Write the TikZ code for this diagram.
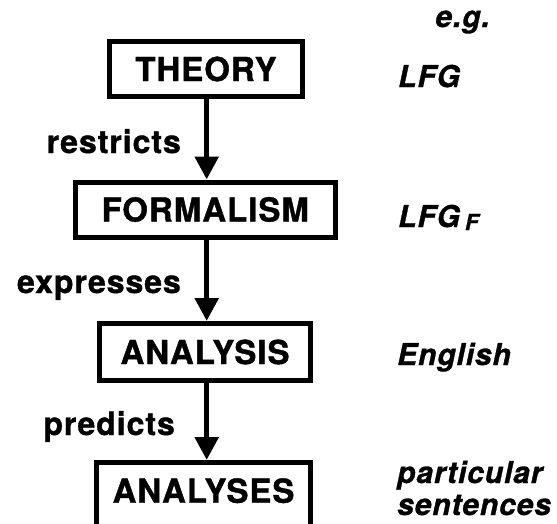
\documentclass[tikz,border=0pt]{standalone}
\usepackage{fontspec}
\setmainfont{TeX Gyre Heros}
\newfontfamily\boxfont[LetterSpace=3,FakeBold=1.2]{TeX Gyre Heros}
\newfontfamily\exfont[LetterSpace=3,FakeBold=1.0]{TeX Gyre Heros}
\usetikzlibrary{arrows.meta}
\begin{document}
\begin{tikzpicture}[x=1pt,y=-1pt,
  box/.style={draw,line width=5pt,inner sep=0pt,align=center,font=\boxfont\fontsize{33}{33}\selectfont\bfseries},
  flow/.style={line width=5.5pt,-{Triangle[length=23pt,width=23pt]}},
  lbl/.style={inner sep=0pt,anchor=base east,font=\boxfont\fontsize{32}{32}\selectfont\bfseries},
  ex/.style={inner sep=0pt,anchor=base west,font=\exfont\fontsize{30}{30}\selectfont\bfseries\itshape}]
\useasboundingbox[fill=white] (0,0) rectangle (557,523);
\clip (0,0) rectangle (557,523);
\node[box,minimum width=193pt,minimum height=55pt] (theory) at (206,69) {THEORY};
\node[box,minimum width=260pt,minimum height=55pt] (formalism) at (205.3,209.5) {FORMALISM};
\node[box,minimum width=211pt,minimum height=57pt] (analysis) at (205,352) {ANALYSIS};
\node[box,minimum width=214pt,minimum height=70pt,text depth=14pt] (analyses) at (203.5,497.5) {ANALYSES};
\draw[flow] (theory.south -| 206.7,0) -- (formalism.north -| 206.7,0);
\draw[flow] (formalism.south -| 206.7,0) -- (analysis.north -| 206.7,0);
\draw[flow] (analysis.south -| 206.7,0) -- (analyses.north -| 206.7,0);
\node[lbl] (l1) at (181,153) {restricts};
\node[lbl] (l2) at (181,293) {expresses};
\node[lbl] (l3) at (175,435) {predicts};
\node[ex,anchor=base east] (eg) at (490,27) {e.g.};
\node[ex] (e1) at (398,87) {LFG};
\node[ex] (e2) at (398,227) {LFG\hspace{5pt}\raisebox{-3pt}{\fontsize{22}{22}\selectfont F}};
\node[ex] (e3) at (397,365) {English};
\node[ex] (e4) at (397,483) {particular};
\node[ex] (e5) at (397,515) {sentences};
\end{tikzpicture}
\end{document}
